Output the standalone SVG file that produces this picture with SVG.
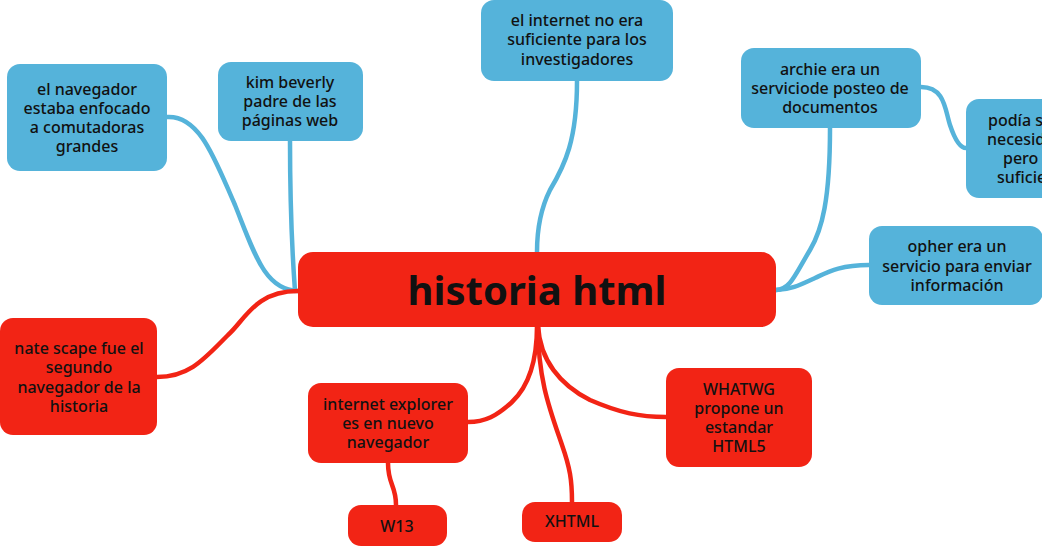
<svg xmlns="http://www.w3.org/2000/svg" width="1042" height="547" viewBox="0 0 1042 547">
<style>
.blue{fill:#55b3da}
.red{fill:#f22415}
.t{font-family:"Noto Sans","Open Sans",sans-serif;font-size:16px;font-weight:500;fill:#111;text-anchor:middle}
.big{font-family:"Noto Sans","Open Sans",sans-serif;font-size:40px;font-weight:700;fill:#111;text-anchor:middle}
.cb{fill:none;stroke:#55b3da;stroke-width:4.5;stroke-linecap:round}
.cr{fill:none;stroke:#f22415;stroke-width:4.5;stroke-linecap:round}
</style>
<rect width="1042" height="547" fill="#ffffff"/>
<g id="connectors">
<path class="cb" d="M167,117 C200,115 215,160 235,205 C255,255 265,290 298,291"/>
<path class="cb" d="M290,141 C290,200 292,250 295,291"/>
<path class="cb" d="M577,81 C577,140 565,165 550,190 C540,210 537,230 537,252"/>
<path class="cb" d="M830,128 C830,200 822,230 810,250 C795,275 790,290 776,290"/>
<path class="cb" d="M921,87 C945,87 945,110 950,125 C955,140 960,148 966,148"/>
<path class="cb" d="M869,265 C840,265 828,272 815,278 C800,285 790,290 776,290"/>
<path class="cr" d="M298,291 C255,291 245,320 228,335 C205,358 190,377 157,377"/>
<path class="cr" d="M537,326 C537,360 530,385 512,402 C497,416 485,422 468,422"/>
<path class="cr" d="M538,326 C538,380 550,410 562,445 C570,468 572,480 572,502"/>
<path class="cr" d="M538,326 C540,360 560,385 590,400 C620,413 640,417 666,417"/>
<path class="cr" d="M388,463 C388,485 396,485 396,505"/>
</g>
<g id="node-center">
<rect class="red" x="298" y="252" width="478" height="75" rx="15"/>
<text class="big" x="537" y="305">historia html</text>
</g>
<g id="node-navegador">
<rect class="blue" x="7" y="64" width="160" height="107" rx="13"/>
<text class="t" x="87" y="95">el navegador</text>
<text class="t" x="87" y="114">estaba enfocado</text>
<text class="t" x="87" y="133">a comutadoras</text>
<text class="t" x="87" y="152">grandes</text>
</g>
<g id="node-kim">
<rect class="blue" x="218" y="62" width="145" height="79" rx="13"/>
<text class="t" x="290" y="88">kim beverly</text>
<text class="t" x="290" y="107">padre de las</text>
<text class="t" x="290" y="126">páginas web</text>
</g>
<g id="node-internet">
<rect class="blue" x="481" y="0" width="192" height="81" rx="13"/>
<text class="t" x="577" y="26">el internet no era</text>
<text class="t" x="577" y="45">suficiente para los</text>
<text class="t" x="577" y="65">investigadores</text>
</g>
<g id="node-archie">
<rect class="blue" x="741" y="48" width="180" height="80" rx="13"/>
<text class="t" x="830" y="75">archie era un</text>
<text class="t" x="830" y="94">serviciode posteo de</text>
<text class="t" x="830" y="113">documentos</text>
</g>
<g id="node-podia">
<rect class="blue" x="966" y="99" width="120" height="99" rx="13"/>
<text class="t" x="988" y="126" style="text-anchor:start">podía s</text>
<text class="t" x="987" y="145" style="text-anchor:start">necesid</text>
<text class="t" x="1003" y="164" style="text-anchor:start">pero</text>
<text class="t" x="997" y="183" style="text-anchor:start">suficie</text>
</g>
<g id="node-opher">
<rect class="blue" x="869" y="226" width="174" height="79" rx="13"/>
<text class="t" x="957" y="252">opher era un</text>
<text class="t" x="957" y="272">servicio para enviar</text>
<text class="t" x="957" y="291">información</text>
</g>
<g id="node-natescape">
<rect class="red" x="0" y="318" width="157" height="117" rx="13"/>
<text class="t" x="79" y="354">nate scape fue el</text>
<text class="t" x="79" y="373">segundo</text>
<text class="t" x="79" y="393">navegador de la</text>
<text class="t" x="79" y="412">historia</text>
</g>
<g id="node-ie">
<rect class="red" x="308" y="383" width="160" height="80" rx="13"/>
<text class="t" x="388" y="410">internet explorer</text>
<text class="t" x="388" y="429">es en nuevo</text>
<text class="t" x="388" y="448">navegador</text>
</g>
<g id="node-w13">
<rect class="red" x="348" y="505" width="99" height="41" rx="13"/>
<text class="t" x="397" y="532">W13</text>
</g>
<g id="node-xhtml">
<rect class="red" x="522" y="502" width="100" height="40" rx="13"/>
<text class="t" x="572" y="527">XHTML</text>
</g>
<g id="node-whatwg">
<rect class="red" x="666" y="368" width="146" height="99" rx="13"/>
<text class="t" x="739" y="395">WHATWG</text>
<text class="t" x="739" y="414">propone un</text>
<text class="t" x="739" y="433">estandar</text>
<text class="t" x="739" y="452">HTML5</text>
</g>
</svg>
